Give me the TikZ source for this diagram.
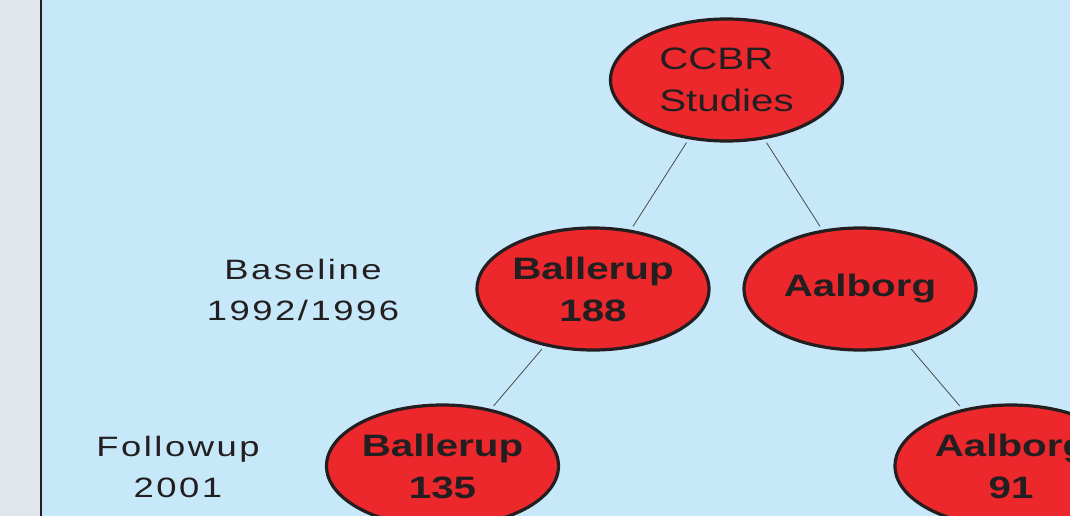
\documentclass[tikz,border=0pt]{standalone}
\usepackage{fontspec}
\setmainfont{Liberation Sans}
\newfontfamily\nodefont[FakeStretch=1.3]{Liberation Sans}
\newfontfamily\labfont[FakeStretch=1.3,LetterSpace=9]{Liberation Sans}
\usetikzlibrary{shapes.geometric}
\definecolor{sidegray}{HTML}{E1E6EB}
\definecolor{skyblue}{HTML}{C6E8F9}
\definecolor{inkdark}{HTML}{231F20}
\definecolor{nodered}{HTML}{EC282D}
\definecolor{linkgray}{HTML}{4A4A4A}
\tikzset{
  ovalnode/.style={ellipse, draw=inkdark, line width=3.2pt, fill=nodered,
    minimum width=232pt, minimum height=122pt, inner sep=0pt,
    align=center, text=inkdark, font=\nodefont\fontsize{31}{42}\selectfont},
  ovalbold/.style={ovalnode, font=\nodefont\bfseries\fontsize{31}{42}\selectfont},
  sidelabel/.style={align=center, text=inkdark, inner sep=0pt,
    font=\labfont\fontsize{28}{41}\selectfont},
  link/.style={draw=linkgray, line width=0.8pt, shorten <=4pt, shorten >=4pt}
}
\begin{document}
\begin{tikzpicture}[x=1pt,y=-1pt]
\useasboundingbox (0,0) rectangle (1070,516);
\clip (0,0) rectangle (1070,516);
\fill[sidegray] (0,0) rectangle (40,516);
\fill[skyblue] (40,0) rectangle (1070,516);
\draw[inkdark, line width=2.4pt] (40.8,0) -- (40.8,516);

\node[ovalnode, align=left] (ccbr) at (726.5,80) {CCBR\\Studies};
\node[ovalbold] (ball1) at (593,289) {Ballerup\\188};
\node[ovalbold] (aal1) at (860,289) {Aalborg};
\node[ovalbold] (ball2) at (442.5,466) {Ballerup\\135};
\node[ovalbold] (aal2) at (1011,466) {Aalborg\\91};

\node[sidelabel] (base) at (303,290) {Baseline\\1992/1996};
\node[sidelabel] (follow) at (178,467) {Followup\\2001};

\draw[link] (ccbr) -- (ball1);
\draw[link] (ccbr) -- (aal1);
\draw[link] (ball1) -- (ball2);
\draw[link] (aal1) -- (aal2);
\end{tikzpicture}
\end{document}
